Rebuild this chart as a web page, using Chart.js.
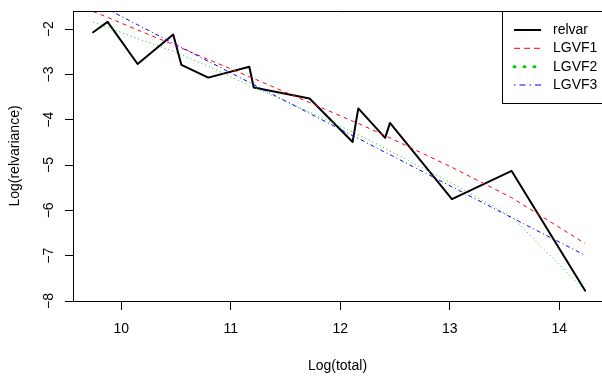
<!DOCTYPE html>
<html>
<head>
<meta charset="utf-8">
<script src="https://cdn.jsdelivr.net/npm/chart.js@4.4.0/dist/chart.umd.min.js"></script>
<style>
  html, body { margin: 0; padding: 0; background: #fff; }
</style>
</head>
<body>
<canvas id="chart" width="602" height="378"></canvas>
<script>
// values (log scale on both axes)
const logTotal = [9.744, 9.876, 10.15, 10.475, 10.55, 10.795, 11.17, 11.21, 11.72, 12.113, 12.165, 12.41, 12.454, 13.02, 13.565, 14.235];
const relvar = [-2.07, -1.84, -2.77, -2.12, -2.79, -3.07, -2.83, -3.29, -3.53, -4.49, -3.75, -4.40, -4.07, -5.75, -5.13, -7.77];
const lgvf1 = [-1.61, -1.74, -2.02, -2.34, -2.42, -2.67, -3.05, -3.09, -3.62, -4.03, -4.08, -4.35, -4.40, -5.05, -5.72, -6.73];
const lgvf2 = [-1.845, -1.96, -2.21, -2.49, -2.57, -2.82, -3.24, -3.28, -3.83, -4.27, -4.33, -4.63, -4.69, -5.40, -6.14, -7.77];
const lgvf3 = [-1.40, -1.56, -1.905, -2.31, -2.40, -2.71, -3.175, -3.225, -3.86, -4.35, -4.41, -4.72, -4.77, -5.48, -6.16, -6.99];

const xTicks = [10, 11, 12, 13, 14];
const yTicks = [-8, -7, -6, -5, -4, -3, -2];
const seriesNames = ['relvar', 'LGVF1', 'LGVF2', 'LGVF3'];

const FONT = '"Liberation Sans", Arial, Helvetica, sans-serif';

function toPoints(ys) {
    return logTotal.map((x, i) => ({ x: x, y: ys[i] }));
}

// legend look, R style
const legendStyle = [
    { color: '#000000', width: 2, dash: [] },
    { color: '#FF0000', width: 1, dash: [6, 4] },
    { color: '#00CD00', width: 3, dash: [1, 9] },
    { color: '#0000FF', width: 1, dash: [1.5, 4, 6, 4] }
];

// box, rotated y labels, axis titles and legend
const rDecor = {
    id: 'rDecor',
    afterDraw(chart) {
        const ctx = chart.ctx;
        const area = chart.chartArea;
        const yScale = chart.scales.y;
        ctx.save();

        // top of the box
        ctx.strokeStyle = '#000';
        ctx.lineWidth = 1;
        ctx.beginPath();
        ctx.moveTo(area.left, area.top + 0.5);
        ctx.lineTo(area.right, area.top + 0.5);
        ctx.stroke();

        // y tick labels, parallel to the axis
        ctx.fillStyle = '#000';
        ctx.font = '14px ' + FONT;
        ctx.textAlign = 'center';
        ctx.textBaseline = 'middle';
        yTicks.forEach(v => {
            ctx.save();
            ctx.translate(49, yScale.getPixelForValue(v));
            ctx.rotate(-Math.PI / 2);
            ctx.fillText(String(v).replace('-', '\u2212'), 0, 0);
            ctx.restore();
        });

        // axis titles
        ctx.fillText('Log(total)', (area.left + area.right) / 2, 366);
        ctx.save();
        ctx.translate(15, (area.top + area.bottom) / 2);
        ctx.rotate(-Math.PI / 2);
        ctx.fillText('Log(relvariance)', 0, 0);
        ctx.restore();

        // legend box in the top right corner
        const bx = 502.5, by = area.top + 0.5;
        ctx.fillStyle = '#fff';
        ctx.fillRect(bx, by, 120, 92);
        ctx.strokeStyle = '#000';
        ctx.lineWidth = 1;
        ctx.strokeRect(bx, by, 120, 92);

        const rows = [30, 48.3, 66.7, 85];
        seriesNames.forEach((name, i) => {
            const st = legendStyle[i];
            ctx.strokeStyle = st.color;
            ctx.lineWidth = st.width;
            ctx.setLineDash(st.dash);
            ctx.lineCap = i === 2 ? 'round' : 'butt';
            ctx.beginPath();
            ctx.moveTo(514, rows[i]);
            ctx.lineTo(541, rows[i]);
            ctx.stroke();
            ctx.setLineDash([]);
            ctx.fillStyle = '#000';
            ctx.textAlign = 'left';
            ctx.fillText(name, 553, rows[i]);
        });

        ctx.restore();
    }
};

new Chart(document.getElementById('chart'), {
    type: 'scatter',
    data: {
        datasets: [
            {
                label: seriesNames[0],
                data: toPoints(relvar),
                showLine: true,
                borderColor: '#000000',
                borderWidth: 2,
                borderJoinStyle: 'round',
                borderCapStyle: 'round',
                pointRadius: 0,
                clip: 0,
                order: 4
            },
            {
                label: seriesNames[1],
                data: toPoints(lgvf1),
                showLine: true,
                borderColor: '#FF0000',
                borderWidth: 1,
                borderDash: [4, 4],
                pointRadius: 0,
                clip: 0,
                order: 3
            },
            {
                label: seriesNames[2],
                data: toPoints(lgvf2),
                showLine: true,
                borderColor: '#00CD00',
                borderWidth: 1,
                borderDash: [1, 3],
                pointRadius: 0,
                clip: 0,
                order: 2
            },
            {
                label: seriesNames[3],
                data: toPoints(lgvf3),
                showLine: true,
                borderColor: '#0000FF',
                borderWidth: 1,
                borderDash: [1, 3, 4, 3],
                pointRadius: 0,
                clip: 0,
                order: 1
            }
        ]
    },
    options: {
        responsive: false,
        animation: false,
        devicePixelRatio: 1,
        layout: { padding: { top: 11, left: 0, right: 0, bottom: 0 } },
        plugins: {
            legend: { display: false },
            tooltip: { enabled: false }
        },
        scales: {
            x: {
                type: 'linear',
                min: 9.56,
                max: 14.39,
                afterBuildTicks: s => { s.ticks = xTicks.map(v => ({ value: v })); },
                afterFit: s => { s.height = 77; },
                grid: { drawOnChartArea: false, drawTicks: true, tickLength: 9, color: '#000' },
                border: { display: true, color: '#000', width: 1 },
                ticks: {
                    color: '#000',
                    font: { family: FONT, size: 14 },
                    padding: 11,
                    maxRotation: 0,
                    autoSkip: false
                }
            },
            y: {
                type: 'linear',
                min: -8,
                max: -1.6,
                afterBuildTicks: s => { s.ticks = yTicks.map(v => ({ value: v })); },
                afterFit: s => { s.width = 73; },
                grid: { drawOnChartArea: false, drawTicks: true, tickLength: 8, color: '#000' },
                border: { display: true, color: '#000', width: 1 },
                ticks: { display: false }
            }
        }
    },
    plugins: [rDecor]
});
</script>
</body>
</html>
